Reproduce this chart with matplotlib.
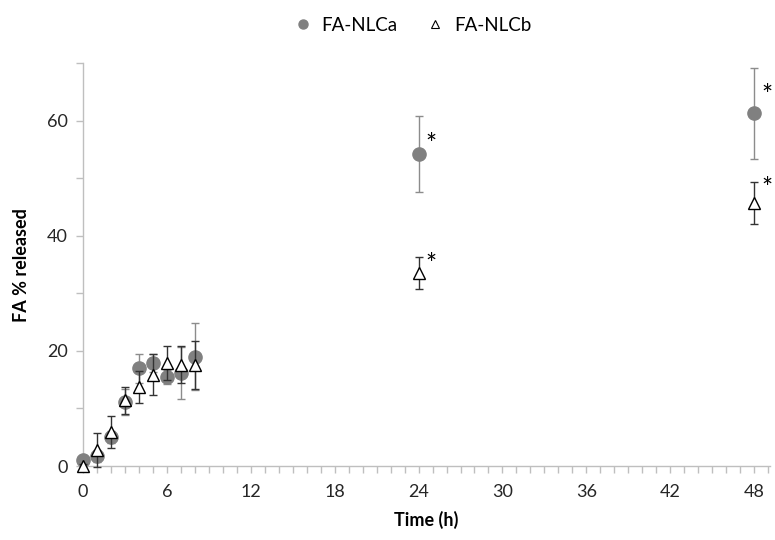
import numpy as np
import matplotlib
matplotlib.use("Agg")
from matplotlib import pyplot as plt
from matplotlib.lines import Line2D

# 시간(h)별 방출률
time_h = [0, 1, 2, 3, 4, 5, 6, 7, 8, 24, 48]
nlca_mean = [1.0, 1.7, 5.0, 11.1, 17.0, 17.9, 15.5, 16.2, 19.0, 54.3, 61.3]
nlca_err = [0.6, 1.0, 1.0, 2.3, 2.5, 1.5, 1.2, 4.5, 5.8, 6.6, 7.9]
nlcb_mean = [0.0, 2.8, 5.9, 11.4, 13.7, 15.9, 17.9, 17.6, 17.5, 33.6, 45.7]
nlcb_err = [0.3, 3.0, 2.8, 2.3, 2.8, 3.5, 3.0, 3.2, 4.2, 2.8, 3.6]
signif_times = [24, 48]

x_ticks = [0, 6, 12, 18, 24, 30, 36, 42, 48]
y_ticks = [0, 20, 40, 60]

plt.rcParams['font.family'] = ['Lato', 'DejaVu Sans']
axis_grey = '#bfbfbf'

fig = plt.figure(figsize=(7.75, 5.4), dpi=100)
ax = fig.add_axes([0.107, 0.137, 0.886, 0.746])

ax.errorbar(time_h, nlca_mean, yerr=nlca_err, fmt='o', color='#7f7f7f',
            markerfacecolor='#808080', markeredgecolor='#808080', markersize=9.5,
            ecolor='#8c8c8c', elinewidth=1, capsize=3, capthick=1,
            clip_on=False, zorder=3)
ax.errorbar(time_h, nlcb_mean, yerr=nlcb_err, fmt='^', color='black',
            markerfacecolor='white', markeredgecolor='black', markersize=9,
            markeredgewidth=1, ecolor='#333333', elinewidth=1, capsize=3, capthick=1,
            clip_on=False, zorder=4)

# 유의성 표시
for t in signif_times:
    i = time_h.index(t)
    ax.annotate('*', (t, nlca_mean[i]), xytext=(9, 6 if t == 24 else 12),
                textcoords='offset points', fontsize=19, ha='center', va='center')
    ax.annotate('*', (t, nlcb_mean[i]), xytext=(9, 5 if t == 24 else 10),
                textcoords='offset points', fontsize=19, ha='center', va='center')

ax.set_xlim(0, 49.1)
ax.set_ylim(0, 70)
ax.set_xticks(x_ticks)
ax.set_xticks(np.arange(0, 50, 1), minor=True)
ax.set_yticks(y_ticks)
ax.set_yticks(np.arange(0, 71, 10), minor=True)

for side in ['top', 'right']:
    ax.spines[side].set_visible(False)
for side in ['left', 'bottom']:
    ax.spines[side].set_color(axis_grey)
    ax.spines[side].set_linewidth(1)

ax.tick_params(axis='both', which='both', color=axis_grey, direction='out', width=1)
ax.tick_params(axis='both', which='major', length=5, labelsize=13, labelcolor='#262626')
ax.tick_params(axis='both', which='minor', length=5)
ax.tick_params(axis='x', pad=8)
ax.tick_params(axis='y', pad=6)

ax.set_xlabel('Time (h)', fontsize=13, fontweight='bold', labelpad=8)
ax.set_ylabel('FA % released', fontsize=13, fontweight='bold', labelpad=12)

handles = [
    Line2D([], [], linestyle='none', marker='o', markersize=6.5,
           markerfacecolor='#808080', markeredgecolor='#808080'),
    Line2D([], [], linestyle='none', marker='^', markersize=6,
           markerfacecolor='white', markeredgecolor='black', markeredgewidth=0.8),
]
fig.legend(handles, ['FA-NLCa', 'FA-NLCb'], loc='upper center',
           bbox_to_anchor=(0.532, 1.0), ncol=2, frameon=False,
           fontsize=13.5, handletextpad=0.5, columnspacing=1.5, handlelength=1.0)

plt.savefig('out.png', dpi=100)
